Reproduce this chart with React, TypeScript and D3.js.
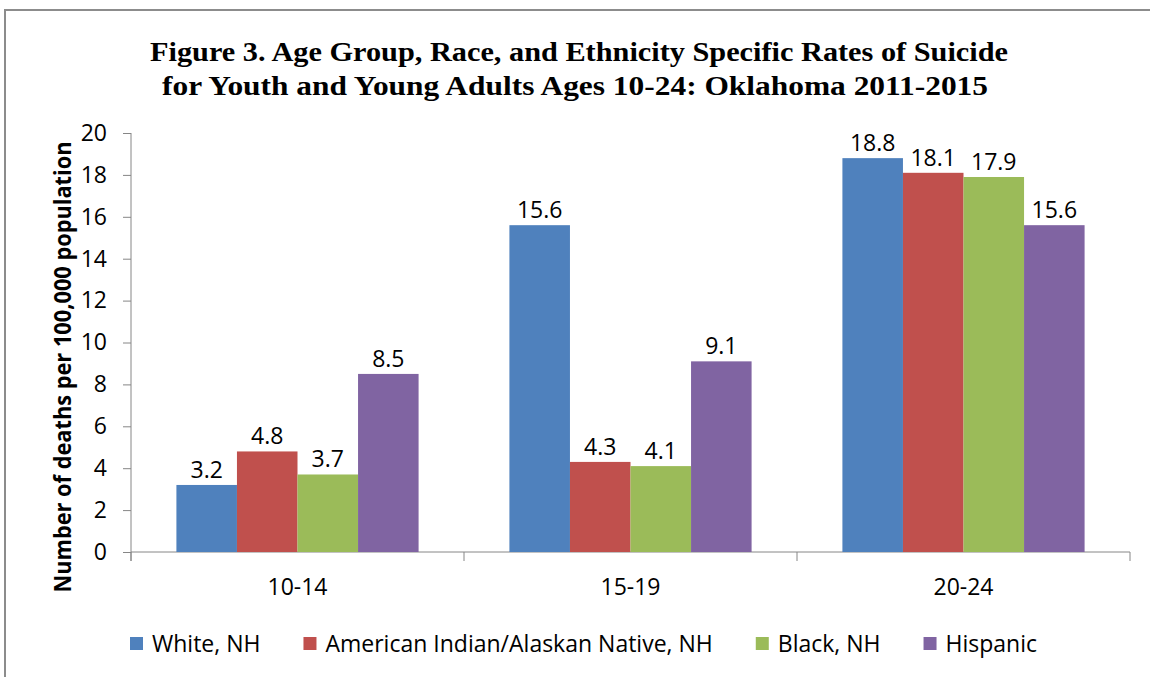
import React, { useEffect, useRef } from "react";
import * as d3 from "d3";

const categories = ["10-14", "15-19", "20-24"];
const seriesNames = ["White, NH", "American Indian/Alaskan Native, NH", "Black, NH", "Hispanic"];
const white = [3.2, 15.6, 18.8];
const aian = [4.8, 4.3, 18.1];
const black = [3.7, 4.1, 17.9];
const hispanic = [8.5, 9.1, 15.6];
const seriesValues = [white, aian, black, hispanic];
const colors = ["#4F81BD", "#C0504D", "#9BBB59", "#8064A2"];
const yTicks = [0, 2, 4, 6, 8, 10, 12, 14, 16, 18, 20];
const titleLines = [
  "Figure 3. Age Group, Race, and Ethnicity Specific Rates of Suicide",
  "for Youth and Young Adults Ages 10-24: Oklahoma 2011-2015",
];
const yTitle = "Number of deaths per 100,000 population";

const W = 1150;
const H = 677;
const FONT = "'Open Sans', sans-serif";

export default function App() {
  const ref = useRef<SVGSVGElement | null>(null);

  useEffect(() => {
    const svg = d3.select(ref.current);
    svg.selectAll("*").remove();

    // chart area border
    svg.append("rect")
      .attr("x", 5).attr("y", 10).attr("width", W + 20).attr("height", H + 20)
      .attr("fill", "#fff").attr("stroke", "#8c8c8c").attr("stroke-width", 2);

    const left = 131, right = 1130, top = 133, bottom = 552;
    const x0 = d3.scaleBand<string>().domain(categories).range([left, right]).paddingInner(0).paddingOuter(0);
    const x1 = d3.scaleBand<string>().domain(seriesNames).range([0, x0.bandwidth()]).paddingInner(0).paddingOuter(0.75);
    const y = d3.scaleLinear().domain([0, 20]).range([bottom, top]);

    // title
    const titleG = svg.append("g");
    titleLines.forEach((t, i) => {
      titleG.append("text")
        .attr("x", i === 0 ? 579 : 575)
        .attr("y", i === 0 ? 61 : 95)
        .attr("text-anchor", "middle")
        .attr("font-family", "'Liberation Serif', serif")
        .attr("font-weight", "bold")
        .attr("font-size", 28)
        .attr("fill", "#000")
        .attr("textLength", i === 0 ? 858 : 826)
        .attr("lengthAdjust", "spacingAndGlyphs")
        .text(t);
    });

    const axisColor = "#868686";

    // y axis
    const yAxis = d3.axisLeft(y).tickValues(yTicks).tickSize(8).tickPadding(16).tickFormat(d3.format("d"));
    const yg = svg.append("g").attr("transform", `translate(${left},0)`).call(yAxis);
    yg.select(".domain").attr("stroke", axisColor).attr("d", `M0,${top}V${bottom + 9}`);
    yg.selectAll(".tick line").attr("stroke", axisColor);
    yg.selectAll(".tick text").attr("font-family", FONT).attr("font-size", 23).attr("fill", "#000");

    // x axis
    const boundaries = [left, ...categories.map((c) => (x0(c) as number) + x0.bandwidth())];
    const xg = svg.append("g");
    xg.append("line").attr("x1", left).attr("x2", right).attr("y1", bottom).attr("y2", bottom).attr("stroke", axisColor);
    xg.selectAll("line.tk").data(boundaries).enter().append("line")
      .attr("class", "tk")
      .attr("x1", (d) => d).attr("x2", (d) => d)
      .attr("y1", bottom).attr("y2", bottom + 9)
      .attr("stroke", axisColor);
    xg.selectAll("text").data(categories).enter().append("text")
      .attr("x", (d) => (x0(d) as number) + x0.bandwidth() / 2)
      .attr("y", bottom + 43)
      .attr("text-anchor", "middle")
      .attr("font-family", FONT).attr("font-size", 23).attr("fill", "#000")
      .text((d) => d);

    // bars
    seriesNames.forEach((s, si) => {
      const g = svg.append("g");
      g.selectAll("rect").data(seriesValues[si]).enter().append("rect")
        .attr("x", (_d, i) => (x0(categories[i]) as number) + (x1(s) as number))
        .attr("y", (d) => y(d))
        .attr("width", x1.bandwidth())
        .attr("height", (d) => bottom - y(d))
        .attr("fill", colors[si]);
      g.selectAll("text").data(seriesValues[si]).enter().append("text")
        .attr("x", (_d, i) => (x0(categories[i]) as number) + (x1(s) as number) + x1.bandwidth() / 2)
        .attr("y", (d) => y(d) - 7)
        .attr("text-anchor", "middle")
        .attr("font-family", FONT).attr("font-size", 23).attr("fill", "#000")
        .text((d) => d3.format(".1f")(d));
    });

    // y title
    svg.append("text")
      .attr("transform", `translate(71,${367}) rotate(-90)`)
      .attr("text-anchor", "middle")
      .attr("font-family", FONT)
      .attr("font-weight", "bold")
      .attr("font-size", 23)
      .attr("textLength", 451)
      .attr("lengthAdjust", "spacingAndGlyphs")
      .attr("fill", "#000")
      .text(yTitle);

    // legend
    const lg = svg.append("g");
    let cx = 130;
    seriesNames.forEach((s, i) => {
      lg.append("rect").attr("x", cx).attr("y", 637).attr("width", 13).attr("height", 13).attr("fill", colors[i]);
      const t = lg.append("text")
        .attr("x", cx + 22).attr("y", 652)
        .attr("font-family", FONT).attr("font-size", 23).attr("fill", "#000")
        .text(s);
      const w = (t.node() as SVGTextElement).getComputedTextLength();
      cx = cx + 22 + w + 43;
    });
  }, []);

  return (
    <svg
      ref={ref}
      width={W}
      height={H}
      style={{ position: "absolute", left: 0, top: 0, background: "#fff" }}
    />
  );
}
